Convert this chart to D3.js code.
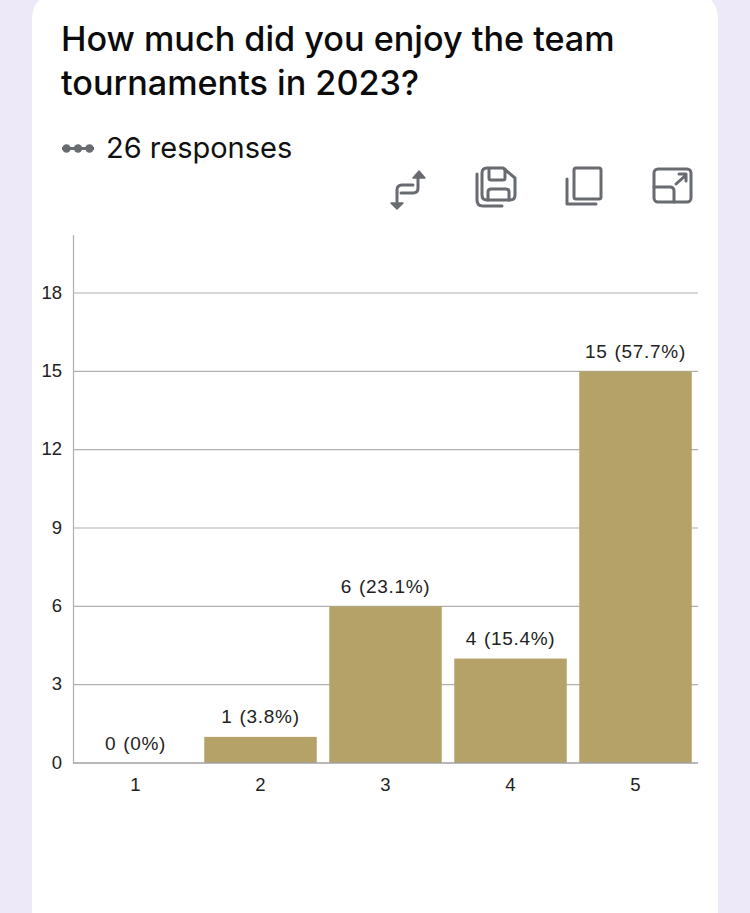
<!DOCTYPE html>
<html>
<head>
<meta charset="utf-8">
<script src="https://cdn.jsdelivr.net/npm/d3@7"></script>
<style>
html, body { margin: 0; padding: 0; background: #ede9f8; overflow: hidden; }
svg { display: block; }
.title { font-family: Inter, sans-serif; font-size: 34.2px; font-weight: 500; fill: #0b0b0c; }
.resp { font-family: Inter, sans-serif; font-size: 29px; fill: #111; }
.chartText { font-family: "Liberation Sans", sans-serif; font-size: 18.5px; fill: #222; }
.barLabel { font-size: 19px; letter-spacing: 0.7px; word-spacing: 1px; }
.icon { fill: none; stroke: #686b70; stroke-width: 3; stroke-linejoin: round; stroke-linecap: round; }
</style>
</head>
<body>
<svg id="chart" width="750" height="913"></svg>
<script>
const categories = ['1', '2', '3', '4', '5'];
const counts = [0, 1, 6, 4, 15];
const barLabels = ['0 (0%)', '1 (3.8%)', '6 (23.1%)', '4 (15.4%)', '15 (57.7%)'];
const yTicks = [0, 3, 6, 9, 12, 15, 18];
const titleLines = ['How much did you enjoy the team', 'tournaments in 2023?'];
const responsesText = '26 responses';

const svg = d3.select('#chart');

// white card
svg.append('path')
	.attr('d', 'M32,913 V20 Q32,-6 58,-6 H692 Q718,-6 718,20 V913 Z')
	.attr('fill', '#fff');

svg.selectAll('text.title')
	.data(titleLines)
	.join('text')
	.attr('class', 'title')
	.attr('x', 61)
	.attr('y', (d, i) => 51 + i * 44)
	.text(d => d);

// three dots icon
const dots = svg.append('g').attr('fill', '#686b70');
dots.append('rect').attr('x', 62).attr('y', 147).attr('width', 32).attr('height', 3);
[66.5, 78, 89.5].forEach(cx => dots.append('circle').attr('cx', cx).attr('cy', 148.5).attr('r', 4.2));

svg.append('text')
	.attr('class', 'resp')
	.attr('x', 106)
	.attr('y', 158)
	.text(responsesText);

// toolbar icons
const icons = svg.append('g').attr('class', 'icon');
icons.append('path').attr('d', 'M418,178 V188 Q418,193 413,193 H401');
icons.append('path').attr('d', 'M413,185 H402 Q397,185 397,190 V202');
icons.append('path').attr('d', 'M413,178 L419,171 L425,178 Z').attr('fill', '#686b70').attr('stroke-width', 1.5);
icons.append('path').attr('d', 'M391,203 L397,209 L403,203 Z').attr('fill', '#686b70').attr('stroke-width', 1.5);

icons.append('path').attr('d', 'M487,168 H503 L515,178 V195 Q515,200 510,200 H487 Q482,200 482,195 V173 Q482,168 487,168 Z');
icons.append('path').attr('d', 'M489,169 V178 Q489,180 491,180 H503 Q505,180 505,178 V169');
icons.append('path').attr('d', 'M488,200 V192 Q488,189 491,189 H506 Q509,189 509,192 V200');
icons.append('path').attr('d', 'M477,174 V200 Q477,206 483,206 H502');

icons.append('rect').attr('x', 574).attr('y', 168).attr('width', 27).attr('height', 31).attr('rx', 2);
icons.append('path').attr('d', 'M567,179 V204 H596');

icons.append('rect').attr('x', 654).attr('y', 169).attr('width', 37).attr('height', 33).attr('rx', 4);
icons.append('path').attr('d', 'M654,187 H670 Q674,187 674,191 V202');
icons.append('path').attr('d', 'M676,184 L686,175 M679,174 H686 V181');

// plot
const x = d3.scaleBand().domain(categories).range([73, 698]).paddingInner(0.1).paddingOuter(0.05);
const y = d3.scaleLinear().domain([0, 18]).range([763, 293]);

const gridColor = '#b0b0b0';

svg.append('g')
	.selectAll('line')
	.data(yTicks.filter(d => d > 0))
	.join('line')
	.attr('x1', 73)
	.attr('x2', 698)
	.attr('y1', d => y(d))
	.attr('y2', d => y(d))
	.attr('stroke', gridColor)
	.attr('stroke-width', 1.2);

svg.append('line')
	.attr('x1', 73.5).attr('x2', 73.5)
	.attr('y1', 235).attr('y2', 763)
	.attr('stroke', gridColor)
	.attr('stroke-width', 1.2);

svg.append('g')
	.selectAll('rect')
	.data(counts)
	.join('rect')
	.attr('x', (d, i) => x(categories[i]))
	.attr('y', d => y(d))
	.attr('width', x.bandwidth())
	.attr('height', d => y(0) - y(d))
	.attr('fill', '#b4a269');

svg.append('line')
	.attr('x1', 73).attr('x2', 698)
	.attr('y1', y(0)).attr('y2', y(0))
	.attr('stroke', '#a0a0a0')
	.attr('stroke-width', 1.5);

svg.append('g')
	.selectAll('text')
	.data(yTicks)
	.join('text')
	.attr('class', 'chartText')
	.attr('x', 62)
	.attr('y', d => y(d))
	.attr('dy', '0.31em')
	.attr('text-anchor', 'end')
	.text(d => d);

svg.append('g')
	.selectAll('text')
	.data(categories)
	.join('text')
	.attr('class', 'chartText')
	.attr('x', d => x(d) + x.bandwidth() / 2)
	.attr('y', 791)
	.attr('text-anchor', 'middle')
	.text(d => d);

svg.append('g')
	.selectAll('text')
	.data(barLabels)
	.join('text')
	.attr('class', 'chartText barLabel')
	.attr('x', (d, i) => x(categories[i]) + x.bandwidth() / 2)
	.attr('y', (d, i) => y(counts[i]) - 13.5)
	.attr('text-anchor', 'middle')
	.text(d => d);
</script>
</body>
</html>
